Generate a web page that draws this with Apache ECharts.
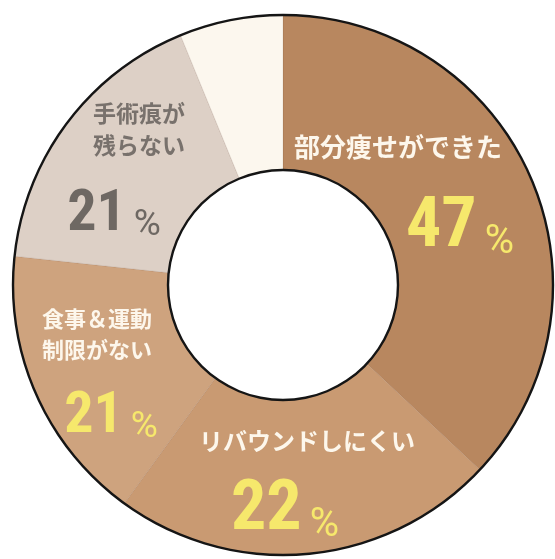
<!DOCTYPE html>
<html>
<head>
<meta charset="utf-8">
<script src="https://cdn.jsdelivr.net/npm/echarts@6/dist/echarts.min.js"></script>
<style>
html,body{margin:0;padding:0;background:#ffffff;}
#main{width:555px;height:559px;}
</style>
</head>
<body>
<div id="main"></div>
<script>
// ---- data ----
const CATEGORIES = ['部分痩せができた', 'リバウンドしにくい', '食事＆運動\n制限がない', '手術痕が\n残らない', 'その他'];
const SLICE_SHARE = [37, 23, 16.7, 17.1, 6.2];      // visual share of the ring
const PERCENT_LABELS = [47, 22, 21, 21, null];      // printed percentages

// ---- styles / layout ----
const SLICE_COLORS = ['#b8875f', '#c99a72', '#cea37e', '#ddd0c6', '#fcf7ee'];
const NAME_COLORS = ['#fdf7ec', '#fdf7ec', '#fdf7ec', '#78716c', null];
const VALUE_COLORS = ['#f6e86c', '#f6e86c', '#f6e86c', '#6e6863', null];
const NAME_SIZES = [26, 24, 22, 23, null];
const NAME_LINE_H = [32, 32, 31, 32, null];
const VALUE_SIZES = [70, 70, 58, 58, null];
const PCT_SIZES = [40, 40, 37, 37, null];
const NAME_POS = [[398, 147], [307, 441], [97, 334], [139, 129]];
const VALUE_POS = [[460, 228], [285, 511], [111, 417], [114, 215]];
const CENTER = [283, 285];

const NUM_FONT = "'Liberation Sans Narrow','Roboto Condensed','Roboto',sans-serif";
const JP_FONT = "'Noto Sans CJK JP','Noto Sans',sans-serif";

const nameData = CATEGORIES.map((c, i) => ({
  name: c,
  value: SLICE_SHARE[i],
  itemStyle: { color: SLICE_COLORS[i] },
  label: PERCENT_LABELS[i] === null ? { show: false } : {
    show: true,
    color: NAME_COLORS[i],
    fontSize: NAME_SIZES[i],
    lineHeight: NAME_LINE_H[i]
  }
}));

const valueData = CATEGORIES.map((c, i) => ({
  name: c,
  value: SLICE_SHARE[i],
  itemStyle: { color: 'rgba(0,0,0,0)' },
  label: PERCENT_LABELS[i] === null ? { show: false } : {
    show: true,
    formatter: '{v|' + PERCENT_LABELS[i] + '}{p|%}',
    rich: {
      v: { fontFamily: NUM_FONT, fontWeight: 'bold', fontSize: VALUE_SIZES[i], lineHeight: VALUE_SIZES[i], color: VALUE_COLORS[i] },
      p: { fontFamily: 'Roboto', fontWeight: 'normal', fontSize: PCT_SIZES[i], lineHeight: Math.round(PCT_SIZES[i] * 1.05), color: VALUE_COLORS[i], verticalAlign: 'bottom', padding: [0, 0, 0, 8] }
    }
  }
}));

const chart = echarts.init(document.getElementById('main'));
chart.setOption({
  animation: false,
  backgroundColor: '#ffffff',
  series: [
    {
      type: 'pie',
      center: CENTER,
      radius: [115, 270],
      startAngle: 90,
      clockwise: true,
      silent: true,
      data: nameData,
      itemStyle: { borderColor: 'rgba(90,60,40,0.18)', borderWidth: 0.6 },
      label: { position: 'inside', formatter: '{b}', fontFamily: JP_FONT, fontWeight: 'bold' },
      labelLine: { show: false },
      labelLayout: p => {
        const pos = NAME_POS[p.dataIndex];
        return pos ? { x: pos[0], y: pos[1], align: 'center', verticalAlign: 'middle' } : {};
      },
      z: 2
    },
    {
      type: 'pie',
      center: CENTER,
      radius: [115, 270],
      startAngle: 90,
      clockwise: true,
      silent: true,
      data: valueData,
      label: { position: 'inside' },
      labelLine: { show: false },
      labelLayout: p => {
        const pos = VALUE_POS[p.dataIndex];
        return pos ? { x: pos[0], y: pos[1], align: 'center', verticalAlign: 'middle' } : {};
      },
      z: 3
    },
    {
      type: 'pie',
      center: CENTER,
      radius: [268.8, 271.2],
      silent: true,
      data: [{ value: 1, itemStyle: { color: '#151515' } }],
      label: { show: false },
      labelLine: { show: false },
      z: 4
    },
    {
      type: 'pie',
      center: CENTER,
      radius: [113.8, 116.2],
      silent: true,
      data: [{ value: 1, itemStyle: { color: '#151515' } }],
      label: { show: false },
      labelLine: { show: false },
      z: 4
    }
  ]
});
</script>
</body>
</html>
